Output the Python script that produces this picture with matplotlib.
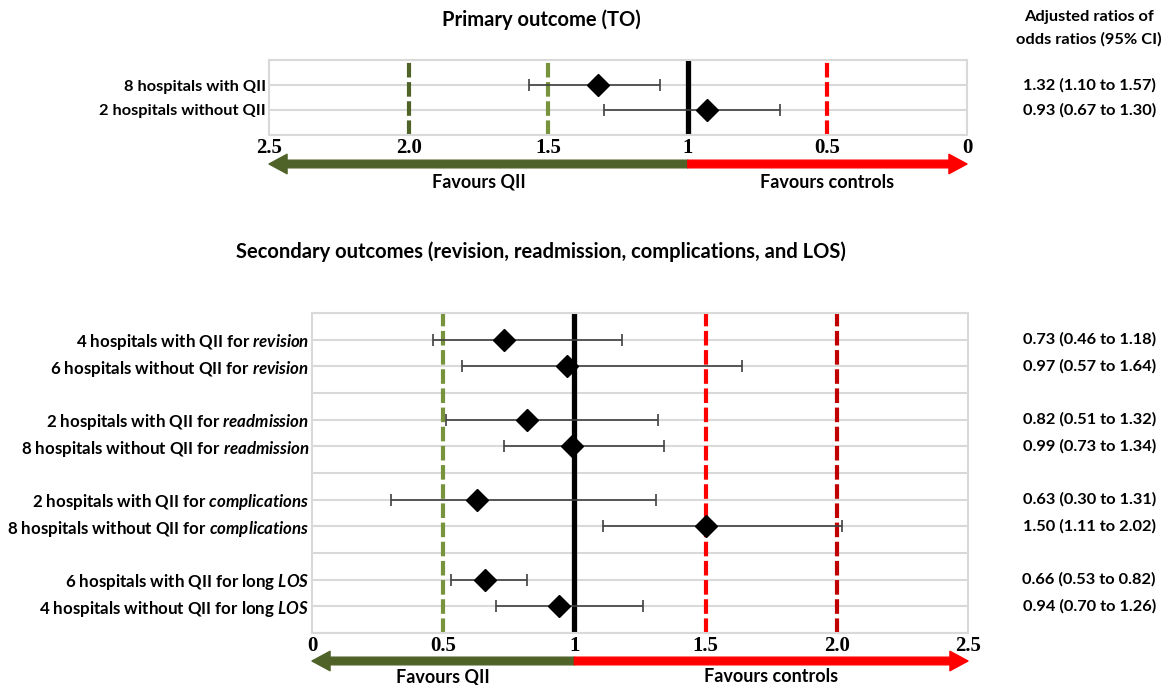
"""
Forest plot: adjusted ratios of odds ratios, primary and secondary outcomes.
"""
import matplotlib
matplotlib.use("Agg")
import matplotlib.pyplot as plt
from matplotlib import transforms

plt.rcParams["font.family"] = "Lato"
plt.rcParams["mathtext.fontset"] = "custom"
plt.rcParams["mathtext.rm"] = "Lato:bold"
plt.rcParams["mathtext.it"] = "Lato:bold:italic"

# --- data ---
top_labels = ["8 hospitals with QII", "2 hospitals without QII"]
top_or = [1.32, 0.93]
top_lo = [1.10, 0.67]
top_hi = [1.57, 1.30]
top_text = ["1.32 (1.10 to 1.57)", "0.93 (0.67 to 1.30)"]

sec_labels = [
    r"4 hospitals with QII for $\it{revision}$",
    r"6 hospitals without QII for $\it{revision}$",
    r"2 hospitals with QII for $\it{readmission}$",
    r"8 hospitals without QII for $\it{readmission}$",
    r"2 hospitals with QII for $\it{complications}$",
    r"8 hospitals without QII for $\it{complications}$",
    r"6 hospitals with QII for long $\it{LOS}$",
    r"4 hospitals without QII for long $\it{LOS}$",
]
sec_or = [0.73, 0.97, 0.82, 0.99, 0.63, 1.50, 0.66, 0.94]
sec_lo = [0.46, 0.57, 0.51, 0.73, 0.30, 1.11, 0.53, 0.70]
sec_hi = [1.18, 1.64, 1.32, 1.34, 1.31, 2.02, 0.82, 1.26]
sec_text = [
    "0.73 (0.46 to 1.18)", "0.97 (0.57 to 1.64)",
    "0.82 (0.51 to 1.32)", "0.99 (0.73 to 1.34)",
    "0.63 (0.30 to 1.31)", "1.50 (1.11 to 2.02)",
    "0.66 (0.53 to 0.82)", "0.94 (0.70 to 1.26)",
]

top_ticks = [2.5, 2.0, 1.5, 1, 0.5, 0]
top_ticklabels = ["2.5", "2.0", "1.5", "1", "0.5", "0"]
sec_ticks = [0, 0.5, 1, 1.5, 2.0, 2.5]
sec_ticklabels = ["0", "0.5", "1", "1.5", "2.0", "2.5"]

DARK_OLIVE = "#4F6228"
OLIVE = "#77933C"
RED = "#FF0000"
DARK_RED = "#C00000"
GRID = "#D9D9D9"

W, H = 1166, 685
fig = plt.figure(figsize=(W / 100, H / 100), dpi=100)


def px(x, y):
    return x / W, 1 - y / H


def axes_px(left, top, right, bottom):
    return [left / W, 1 - bottom / H, (right - left) / W, (bottom - top) / H]


def forest(ax, ypos, ors, los, his, labels, label_size, texts, refs, ticks,
           ticklabels, arrow_y, lab_y, mids):
    ax.set_ylim(max(ypos) + 1, 0)
    ax.set_yticks(ypos)
    ax.set_yticklabels(labels, fontsize=label_size, fontweight="bold")
    ax.set_yticks(range(0, int(max(ypos)) + 2), minor=True)
    ax.tick_params(axis="y", which="both", length=0, pad=2)
    ax.grid(axis="y", which="both", color=GRID, lw=1.5, zorder=0)
    ax.set_axisbelow(True)
    for s in ax.spines.values():
        s.set_color(GRID)
        s.set_linewidth(1.5)

    for x, c, ls in refs:
        if ls == "-":
            ax.axvline(x, color=c, lw=3.8, zorder=2)
        else:
            ax.axvline(x, color=c, lw=3, dashes=(3.5, 1.1), zorder=2)

    xerr = [[o - l for o, l in zip(ors, los)], [h - o for o, h in zip(ors, his)]]
    ax.errorbar(ors, ypos, xerr=xerr, fmt="none", ecolor="#404040",
                elinewidth=1.2, capsize=4, capthick=1.2, zorder=3)
    ax.plot(ors, ypos, ls="none", marker="D", ms=11, color="black", zorder=4)

    ax.set_xticks(ticks)
    ax.set_xticklabels(ticklabels, family="Liberation Serif",
                       fontweight="bold", fontsize=15)
    ax.tick_params(axis="x", length=0, pad=2)

    bt = transforms.blended_transform_factory(ax.transData, fig.transFigure)
    yf = 1 - arrow_y / H
    style = "simple,tail_width=0.55,head_width=1.4,head_length=1.3"
    ax.annotate("", xy=(ticks[0], yf), xytext=(1, yf), xycoords=bt,
                textcoords=bt, annotation_clip=False,
                arrowprops=dict(arrowstyle=style, color=DARK_OLIVE,
                                shrinkA=0, shrinkB=0, mutation_scale=10))
    ax.annotate("", xy=(ticks[-1], yf), xytext=(1, yf), xycoords=bt,
                textcoords=bt, annotation_clip=False,
                arrowprops=dict(arrowstyle=style, color=RED,
                                shrinkA=0, shrinkB=0, mutation_scale=10))
    lf = 1 - lab_y / H
    ax.text(mids[0], lf, "Favours QII", transform=bt, ha="center",
            va="center", fontsize=13, fontweight="bold")
    ax.text(mids[1], lf, "Favours controls", transform=bt, ha="center",
            va="center", fontsize=13, fontweight="bold")

    rt = transforms.blended_transform_factory(fig.transFigure, ax.transData)
    for y, t in zip(ypos, texts):
        ax.text(1156 / W, y, t, transform=rt, ha="right", va="center",
                fontsize=11.8, fontweight="bold")


# primary outcome
ax1 = fig.add_axes(axes_px(269, 60, 967, 135))
ax1.set_xlim(2.5, 0)
forest(ax1, [1, 2], top_or, top_lo, top_hi, top_labels, 11.8, top_text,
       [(2.0, DARK_OLIVE, "--"), (1.5, OLIVE, "--"), (1, "black", "-"),
        (0.5, RED, "--")],
       top_ticks, top_ticklabels, 164, 182, (1.75, 0.5))

# secondary outcomes
ax2 = fig.add_axes(axes_px(312, 313, 968, 633))
ax2.set_xlim(0, 2.5)
forest(ax2, [1, 2, 4, 5, 7, 8, 10, 11], sec_or, sec_lo, sec_hi, sec_labels,
       12.2, sec_text,
       [(0.5, OLIVE, "--"), (1, "black", "-"), (1.5, RED, "--"),
        (2.0, DARK_RED, "--")],
       sec_ticks, sec_ticklabels, 661, 677, (0.5, 1.75))

fig.text(*px(541, 20), "Primary outcome (TO)", ha="center", va="center",
         fontsize=14.5, fontweight="bold")
fig.text(*px(541, 252),
         "Secondary outcomes (revision, readmission, complications, and LOS)",
         ha="center", va="center", fontsize=14.5, fontweight="bold")
fig.text(*px(1089, 17), "Adjusted ratios of", ha="center", va="center",
         fontsize=11.8, fontweight="bold")
fig.text(*px(1089, 39), "odds ratios (95% CI)", ha="center", va="center",
         fontsize=11.8, fontweight="bold")

fig.savefig("out.png", dpi=100)
